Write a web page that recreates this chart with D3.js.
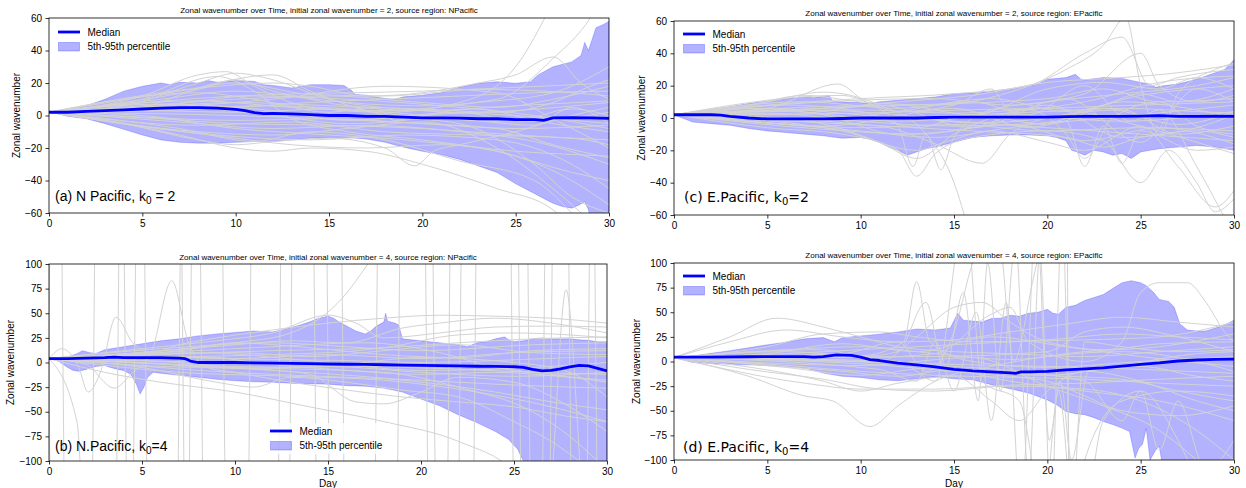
<!DOCTYPE html>
<meta charset="utf-8">
<script src="https://d3js.org/d3.v7.min.js"></script>
<style>
  body { margin: 0; background: #fff; }
  text { font-family: "Liberation Sans", Arial, sans-serif; }
</style>
<div id="chart"></div>
<script>

// ---------- data: [day, zonal wavenumber] ----------
const xTicks = [0, 5, 10, 15, 20, 25, 30];
const yTicks60 = [-60, -40, -20, 0, 20, 40, 60];
const yTicks100 = [-100, -75, -50, -25, 0, 25, 50, 75, 100];

// (a) N Pacific, k0 = 2
const medianA = [[0,2],[1,2],[2,2.5],[3,3],[4,3.5],[5,4],[6,4.5],[7,4.8],[8,4.8],[9,4.5],[10,3.8],[10.5,3],[11,1.8],[11.5,1.2],[12,1.3],[13,1],[14,0.5],[15,0],[16,0],[17,-0.5],[18,-0.6],[19,-1],[20,-1.5],[21,-1.5],[22,-1.6],[23,-2],[24,-2],[25,-2.5],[26,-2.5],[26.5,-3],[27,-1.5],[28,-1.3],[29,-1.5],[30,-1.8]];
const p95A = [[0,2],[0.5,2.8],[1,3.8],[2,6],[3,10],[4,15],[5,18],[6,20],[6.5,19],[7,20.5],[8,20],[8.5,21.5],[9,20.5],[10,21.5],[11,21],[11.5,19],[12,18.5],[13,17],[13.5,18],[14,19],[15,19],[15.8,18.5],[16.2,15.5],[16.4,13],[17,12.5],[18,10.5],[18.5,10],[19,11.5],[20,12.5],[21,14],[22,17.5],[23,19.8],[24,20.8],[25,19.8],[25.8,20.8],[26.2,25],[27,30],[28,33],[28.5,37],[28.7,45],[28.9,40],[29.3,54],[29.7,56],[30,58]];
const p5A = [[0,2],[0.5,1],[1,-0.5],[2,-2],[3,-5],[4,-8.5],[5,-12],[6,-15],[7,-16.5],[8,-17],[9,-17],[10,-16.5],[11,-16],[12,-16],[13,-15],[14,-14],[15,-13.5],[16,-13.5],[17,-14.5],[18,-16.5],[19,-19.5],[20,-22],[21,-24],[22,-27],[23,-31],[24,-35],[25,-42],[26,-48],[26.5,-51],[27,-54],[27.5,-56],[28,-57],[28.4,-55],[28.7,-53],[28.9,-58],[29.1,-70],[30,-75]];
const trajA = [
  [[0,2],[4,8],[8,16],[10,22],[12,15],[16,8],[20,6],[24,10],[27,35],[29,60],[30,80]],
  [[0,2],[5,12],[8,25],[9.5,27],[11,18],[14,5],[18,2],[22,8],[25,30],[27,70]],
  [[0,2],[4,6],[8,20],[10,26],[12,22],[15,10],[20,3],[25,0],[30,-5]],
  [[0,2],[5,10],[9,24],[11,15],[13,-2],[16,-10],[20,-15],[24,-22],[28,-35],[30,-40]],
  [[0,2],[3,-3],[7,-12],[10,-20],[12,-22],[14,-20],[17,-22],[20,-30],[24,-45],[27,-58],[28,-70]],
  [[0,2],[4,-5],[8,-15],[10,-18],[12,-16],[15,-14],[18,-20],[19.6,-31],[20.6,-22],[22,-18],[25,-10],[28,0],[30,5]],
  [[0,2],[6,3],[10,5],[14,8],[18,10],[22,12],[26,14],[30,15]],
  [[0,2],[6,-2],[10,-5],[15,-6],[20,-8],[25,-12],[30,-15]],
  [[0,2],[5,6],[10,10],[15,12],[20,8],[24,5],[27,10],[30,18]],
  [[0,2],[5,0],[10,-8],[15,-12],[20,-16],[25,-25],[28,-40],[30,-55]],
  [[0,2],[7,5],[12,0],[16,-5],[19,-3],[21,2],[23,4],[26,-3],[30,-10]],
  [[0,2],[6,10],[10,15],[13,12],[16,6],[20,4],[24,2],[27,8],[29,18],[30,22]],
  [[0,2],[8,-10],[12,-12],[16,-8],[20,-4],[24,-20],[27,-45],[29,-65]],
  [[0,2],[8,14],[11,10],[15,2],[17.5,5],[18.5,-3],[20,0],[25,3],[30,8]],
  [[0,2],[10,-14],[13,-18],[17,-20],[21,-18],[25,-22],[30,-25]],
  [[0,2],[6,4],[12,6],[16,4],[22,-2],[26,-6],[28,5],[30,-5]],
  [[0,2],[9,18],[12,20],[14,18],[17,12],[20,14],[23,20],[25,25],[27,36],[28.5,20],[30,10]],
  [[0,2],[7,-8],[11,-16],[14,-10],[18,-15],[22,-28],[26,-40],[28,-60]],
  [[0,2],[10,0],[20,-5],[24,-8],[27,-18],[30,-26]],
  [[0,2],[10,12],[20,15],[30,20]],
  [[0,2],[8,-6],[13,-4],[18,-10],[23,-12],[28,-14],[30,-18]],
  [[0,2],[6,7],[12,3],[16,-3],[22,2],[25,-3],[28,4],[30,0]],
  [[0,2],[4,3],[9,20],[12,25],[14,15],[18,0],[22,-5],[26,-30],[28,-50],[30,-60]],
  [[0,2],[12,10],[18,18],[24,14],[27,-2],[30,-20]],
  [[0,2],[5,5],[10,8],[15,6],[20,3],[25,6],[30,9]],
  [[0,2],[5,-1],[10,-3],[15,-2],[20,-5],[25,-8],[30,-6]],
  [[0,2],[6,6],[11,12],[16,10],[21,6],[26,0],[30,-8]],
  [[0,2],[7,-4],[12,-8],[17,-6],[22,-10],[26,-16],[30,-30]],
  [[0,2],[8,9],[13,5],[18,3],[23,8],[27,14],[30,30]],
  [[0,2],[5,3],[10,2],[15,4],[20,-1],[25,-4],[30,2]],
  [[0,2],[9,-12],[14,-15],[19,-12],[24,-15],[28,-30],[30,-45]],
  [[0,2],[7,15],[10,20],[14,13],[18,12],[23,16],[28,14],[30,12]]
];

// (b) N.Pacific, k0 = 4
const medianB = [[0,4],[1,4],[2,4.5],[3,5],[3.5,5.5],[4,5],[5,5],[6,5],[7,4.5],[7.3,4],[7.6,1.5],[8,0],[9,0],[10,0],[11,-0.3],[12,-0.6],[13,-0.9],[14,-1.2],[15,-1.5],[16,-1.8],[17,-2],[18,-2.3],[19,-2.6],[20,-3],[21,-3.2],[22,-3.5],[23,-3.8],[24,-4],[25,-4.3],[25.5,-5],[26,-7],[26.5,-8.5],[27,-8],[27.5,-6.5],[28,-4.5],[28.5,-3],[29,-3.5],[29.5,-6],[30,-8.5]];
const p95B = [[0,4],[0.5,5],[1,5.5],[1.5,9],[1.8,12],[2.2,10],[2.5,9],[3,13],[4,16],[5,19],[6,22],[7,24],[8,27],[9,29],[10,30.5],[11,32],[12,31],[12.5,33],[13,35.5],[13.5,38],[14,41],[14.5,45],[15,47],[15.3,45],[15.6,41],[16,37],[16.5,32],[17,29],[17.3,32],[17.6,37],[18,41],[18.1,50],[18.2,42],[18.6,40],[18.8,38],[19,24],[20,22],[21,20],[22,18],[22.5,16],[23,20],[23.5,21],[24,24],[24.5,26],[24.8,22],[25,21],[25.5,22],[26,24],[26.5,25],[27,24],[27.5,24],[28,24],[28.5,23],[29,22.5],[29.5,21],[30,21]];
const p5B = [[0,4],[0.5,1.5],[1,-5],[1.3,-8],[1.6,-9],[2,-7],[2.5,-4],[3,-3],[3.3,-5],[3.7,-7],[4,-8],[4.4,-12],[4.7,-22],[4.9,-32],[5.1,-25],[5.3,-15],[5.6,-10],[6,-11],[7,-13],[8,-15],[9,-17],[10,-18.5],[11,-19.5],[12,-20],[13,-21],[14,-21.5],[15,-22],[16,-23.5],[17,-24],[18,-26],[19,-30],[20,-37],[21,-44],[22,-53],[23,-61],[24,-70],[24.7,-78],[25.2,-88],[25.5,-100],[25.7,-110],[30,-110]];
const trajB = [
  [[0,4],[0.7,14],[1.6,-5],[2.1,-30],[2.8,-8],[3.6,46],[4.5,20],[5.5,10],[7,18],[9,25],[12,33],[15,40],[18,45],[21,48],[24,47],[27,45],[30,40]],
  [[0,4],[2,-2],[3.5,-26],[4.5,-10],[5.5,10],[6.6,83],[7.5,20],[8.5,-5],[10,-10],[13,-20],[16,-28],[19,-35],[22,-40],[25,-45],[28,-55],[30,-60]],
  [[0,4],[3,10],[6,16],[9,22],[12,30],[15,48],[16.5,40],[18,25],[21,30],[24,36],[27,37],[30,36]],
  [[0,4],[4,6],[8,5],[12,3],[16,2],[20,0],[24,2],[28,5],[30,6]],
  [[0,4],[4,-2],[8,-8],[12,-12],[16,-15],[20,-18],[24,-22],[28,-25],[30,-26]],
  [[0,4],[5,10],[10,18],[13,22],[16,20],[19,35],[21,40],[24,45],[27,40],[30,30]],
  [[0,4],[5,2],[10,-5],[14,-12],[16.5,-40],[18,-42],[20,-30],[22,-15],[25,-20],[28,-45],[30,-70]],
  [[0,4],[6,8],[12,12],[18,15],[22,20],[26,24],[30,26]],
  [[0,4],[6,-4],[12,-6],[18,-10],[22,-25],[26,-50],[28,-75],[29.5,-100]],
  [[0,4],[8,6],[12,-2],[16,-8],[20,-12],[24,-10],[28,-15],[30,-18]],
  [[0,4],[7,12],[10,20],[14,15],[18,8],[22,5],[26,12],[30,14]],
  [[0,4],[5,-5],[9,-20],[11,-25],[13,-15],[16,-20],[19,-28],[22,-35],[25,-60],[27,-80],[28.5,-100]],
  [[0,4],[9,0],[15,-3],[21,-6],[26,-10],[30,-12]],
  [[0,4],[10,10],[14,6],[18,12],[22,18],[26,10],[30,8]],
  [[0,4],[12,-8],[18,-16],[24,-30],[27,-40],[30,-48]],
  [[0,4],[11,15],[17,20],[21,10],[24,-5],[27,-12],[30,-20]],
  [[0,4],[15,10],[18,15],[22,28],[25,30],[28,28],[30,25]],
  [[0,4],[14,-5],[20,5],[25,0],[28,-10],[30,-35]],
  [[0,4],[6,12],[10,20],[13,30],[15.5,60],[17.5,110]],
  [[0,4],[5,6],[10,4],[15,8],[20,4],[25,10],[30,12]],
  [[0,4],[5,0],[10,-6],[15,-4],[20,-10],[25,-14],[30,-10]],
  [[0,4],[6,14],[12,20],[16,16],[20,12],[26,18],[30,20]],
  [[0,4],[7,-10],[13,-14],[18,-18],[23,-30],[27,-45],[30,-60]],
  [[0,4],[8,10],[14,2],[20,-8],[25,-6],[30,0]],
  [[0,4],[3,-10],[6,-20],[10,-30],[14,-45],[18,-60],[22,-80],[25,-110],[26.8,-150],[27.8,74],[28.8,-150],[30,-200]],
  [[0,4],[0.2,400],[0.45,400],[1.05,-400],[3.4,-400],[4.0,400],[4.9,400],[5.5,-400],[7.3,-400],[7.9,400],[9.1,400],[9.7,-400],[12.7,-400],[13.3,400],[15.5,400],[16.1,-400],[18.5,-400],[19.1,400],[20.4,400],[21.0,-400],[22.6,-400],[23.2,400],[25.0,400],[25.6,-400],[26.7,-400],[27.3,400],[29.1,400],[29.7,-400],[30,-400]],
  [[0,4],[0.25,-400],[2.1,-400],[2.7,400],[3.8,400],[4.4,-400],[6.7,-400],[7.3,400],[7.9,400],[8.5,-400],[12.1,-400],[12.7,400],[14.7,400],[15.3,-400],[17.3,-400],[17.9,400],[20.0,400],[20.6,-400],[21.8,-400],[22.4,400],[24.6,400],[25.2,-400],[26.3,-400],[26.9,400],[27.7,400],[28.3,-400],[28.7,-400],[29.3,400],[30,400]],
  [[0,4],[1.5,-60],[2.4,-400],[4.3,-400],[4.9,400],[6.9,400],[7.5,-400],[10.5,-400],[11.1,400],[14,400],[14.6,-400],[21.2,-400],[21.8,400],[25.5,400],[26.1,-400],[30,-400]]
];

// (c) E.Pacific, k0 = 2
const medianC = [[0,2],[1,2],[2,2],[2.5,1.8],[3,1],[4,0],[5,-0.6],[6,-0.6],[7,-0.5],[8,-0.5],[9,-0.3],[10,0],[11,0],[12,0],[13,0],[14,0.3],[15,0.5],[16,0.5],[17,0.5],[18,0.5],[19,0.5],[20,0.5],[21,0.8],[22,1],[23,1],[24,1],[25,1.2],[26,1.5],[27,1],[28,1],[29,1.2],[30,1]];
const p95C = [[0,2],[1,3.3],[2,5.3],[3,7],[4,9],[5,10.5],[6,12],[7,13],[7.5,12.5],[8,13.5],[8.3,14],[8.5,10.5],[9,10],[10,9.5],[10.5,9],[11,10],[12,11],[13,12],[14,13],[15,15],[16,15.5],[17,16.5],[18,18],[19,20],[19.5,21],[20,24],[21,25],[21.5,27],[21.8,24],[22,23.5],[23,25],[24,24.5],[25,22],[25.5,21],[25.8,19],[26.2,20],[27,21],[28,24],[28.5,26],[29,28],[29.5,30],[30,36]];
const p5C = [[0,2],[1,-2.5],[2,-3.5],[3,-4.5],[4,-6.5],[5,-8],[6,-9],[7,-10],[8,-11],[9,-12.5],[10,-12],[10.5,-13],[11,-15],[11.5,-18],[12,-20],[12.5,-23],[13,-21],[13.5,-19],[14,-18],[15,-15],[16,-12],[17,-11],[18,-10.5],[19,-10.5],[20,-11],[20.5,-12],[21,-14],[21.3,-20],[21.6,-21],[22,-23],[22.5,-20],[23,-21],[23.5,-23],[24,-22],[24.5,-25],[25,-21],[25.5,-20],[26,-19],[27,-18],[28,-17],[29,-18],[30,-20]];
const trajC = [
  [[0,2],[5,10],[8,16],[11,8],[13.5,-10],[15,-40],[15.8,-70]],
  [[0,2],[5,6],[8.8,21],[10,12],[12,-5],[12.8,-30],[13.5,-10],[14.3,-32],[15,-12],[17,5],[20,10],[24,15],[28,20],[30,25]],
  [[0,2],[3,5],[7,14],[10,10],[14,8],[18,16],[21,30],[23,45],[24.2,62],[25,20],[26,-10],[27,15],[29,30],[30,34]],
  [[0,2],[5,-6],[9,-10],[12,-20],[13,-36],[14,-22],[16,-12],[20,-8],[23,-14],[25,-40],[26.5,-20],[28,-40],[29,-58],[30,-50]],
  [[0,2],[6,-4],[10,-8],[14,-12],[18,-6],[21,-2],[22,-30],[23,-5],[24,-28],[25,-8],[28,-20],[30,-18]],
  [[0,2],[4,4],[8,6],[12,10],[16,14],[20,22],[24,25],[27,28],[30,33]],
  [[0,2],[5,8],[10,12],[15,15],[19,20],[22,40],[24,50],[25.5,20],[27,25],[30,30]],
  [[0,2],[5,3],[10,-2],[15,-5],[20,-3],[25,2],[30,8]],
  [[0,2],[4,-2],[8,-5],[12,0],[16,2],[20,4],[24,6],[28,4],[30,3]],
  [[0,2],[6,0],[11,-15],[13,-25],[15,-10],[17,0],[19,5],[21,-10],[22,-25],[23.5,0],[26,10],[28,-5],[30,-10]],
  [[0,2],[7,5],[12,2],[16,-3],[20,0],[23,8],[25,15],[27,10],[30,18]],
  [[0,2],[8,10],[14,12],[18,8],[22,15],[25,40],[26,20],[28,10],[30,14]],
  [[0,2],[9,-8],[13,-20],[14.5,-15],[17,-8],[20,-15],[22,-20],[25,-5],[27,-30],[29,-55],[30,-45]],
  [[0,2],[10,3],[20,6],[25,-5],[28,-15],[30,-22]],
  [[0,2],[6,4],[12,-2],[18,2],[24,-2],[30,4]],
  [[0,2],[10,7],[20,12],[23,18],[26,10],[30,12]],
  [[0,2],[8,-3],[16,-8],[21,-12],[23,-18],[25,-12],[28,-8],[30,-12]],
  [[0,2],[9,14],[12,4],[15,8],[17,18],[18,5],[22,10],[26,22],[30,26]],
  [[0,2],[11,-5],[14,-16],[16.5,-28],[18,-10],[20,0],[24,5],[27,-10],[30,-5]],
  [[0,2],[7,-2],[12,4],[16,10],[19,2],[22,20],[24.5,-2],[26,5],[28,-30],[29.5,-62]],
  [[0,2],[5,6],[10,2],[15,-2],[20,-6],[25,-10],[30,-14]],
  [[0,2],[12,8],[16,2],[20,18],[23,22],[26,18],[28,25],[30,18]],
  [[0,2],[5,4],[10,5],[15,3],[20,6],[25,8],[30,10]],
  [[0,2],[5,-3],[10,-6],[15,-4],[20,-8],[25,-6],[30,-8]],
  [[0,2],[6,8],[10,4],[13,-6],[16,2],[20,-4],[24,10],[28,5],[30,0]],
  [[0,2],[4,6],[8,2],[12,-10],[16,-6],[20,8],[24,-12],[28,-6],[30,2]],
  [[0,2],[7,10],[12,6],[17,12],[21,4],[25,14],[30,20]],
  [[0,2],[8,-7],[13,-10],[18,-4],[22,-14],[26,-6],[30,-16]],
  [[0,2],[10,-1],[15,6],[19,-6],[23,6],[27,-4],[30,4]],
  [[0,2],[6,2],[11,8],[16,-6],[21,12],[25,-15],[28,18],[30,10]]
];

// (d) E.Pacific, k0 = 4
const medianD = [[0,4.4],[2,4.5],[4,4.8],[6,5],[7,5],[7.5,4.5],[8,5],[8.7,6.8],[9.5,6.2],[10,4.5],[10.5,2],[11,1],[12,-1.7],[13,-3.5],[14,-5.5],[15,-8],[16,-9.5],[17,-10.5],[18,-11.5],[18.3,-12],[18.6,-10.5],[19,-10.5],[20,-10],[21,-8.5],[22,-7.5],[23,-6.5],[24,-4.8],[25,-3],[26,-1.5],[27,0.5],[28,1.5],[29,2.2],[30,2.4]];
const p95D = [[0,4],[1,5.5],[2,8.4],[3,11],[4,14],[5,17],[6,19.6],[7,23],[8,24.3],[8.3,22],[8.6,20],[9,24],[10,26],[11,27.7],[12,30],[13,33],[14,32],[14.8,34],[15.2,49],[15.5,42],[16,41],[16.5,40],[17,43.6],[17.5,44],[18,47],[18.5,46],[19,49],[19.5,50],[20,53],[20.3,49],[20.6,48],[21,55],[21.5,57],[22,62],[22.5,65],[23,68],[23.5,74],[24,80],[24.5,82],[25,80],[25.3,77],[25.7,70],[26,63],[26.5,61],[26.8,55],[27.1,38],[27.5,32],[28,31],[28.5,31],[29,34],[29.5,37],[30,42]];
const p5D = [[0,4],[1,-1],[2,-2],[3,-2.8],[4,-3.4],[5,-4.2],[6,-5],[7,-6.8],[7.5,-9],[8,-11.8],[9,-15],[10,-16.2],[11,-18.6],[12,-19.6],[13,-17.6],[14,-15.5],[15,-17.6],[16,-18.6],[17,-23.6],[18,-27.7],[19,-32],[20,-39],[20.5,-44],[21,-50.7],[21.5,-53],[22,-54],[22.5,-57],[23,-61],[23.5,-64],[24,-67.6],[24.4,-71],[24.7,-98],[24.9,-88],[25.1,-84],[25.3,-68],[25.5,-100],[25.8,-90],[26,-86],[26.2,-110],[30,-110]];
const trajD = [
  [[0,4],[3,25],[5.5,44],[8,35],[10,25],[12,15],[15,10],[18,8],[22,5],[26,10],[30,15]],
  [[0,4],[3,20],[6,32],[9,25],[12,20],[15,22],[18,30],[21,38],[24,45],[27,40],[30,35]],
  [[0,4],[4,-15],[7,-35],[8.5,-40],[10.5,-66],[12,-45],[14,-20],[17,-5],[20,5],[24,10],[28,0],[30,-10]],
  [[0,4],[4,-8],[8,-18],[11,-28],[14,-30],[18,-25],[22,-28],[25,-40],[28,-70],[30,-100]],
  [[0,4],[5,15],[8,28],[11,30],[13,25],[16,20],[20,22],[24,28],[27,25],[30,22]],
  [[0,4],[6,8],[10,12],[14,16],[18,20],[22,22],[26,25],[30,40]],
  [[0,4],[6,-4],[10,-10],[14,-14],[18,-16],[22,-18],[26,-22],[30,-25]],
  [[0,4],[5,2],[10,0],[15,-3],[20,-5],[25,-8],[30,-12]],
  [[0,4],[6,10],[10,6],[12.3,20],[13,81],[13.7,20],[16,0],[20,-6],[25,0],[30,5]],
  [[0,4],[8,-20],[10,-30],[12,-22],[15,-15],[17,-40],[18.5,-60],[20,-30],[22,-10],[25,-20],[28,-40],[30,-50]],
  [[0,4],[8,12],[11,0],[13,25],[15,55],[16.5,60],[18,40],[20,20],[23,12],[26,18],[30,20]],
  [[0,4],[10,4],[14,8],[17,48],[18,55],[19,20],[22,0],[24,20],[25,70],[26,80],[27.5,80],[28.5,60],[29.5,30],[30,20]],
  [[0,4],[12,-5],[16,-12],[20,-20],[22,-35],[24,-50],[27,-55],[30,-45]],
  [[0,4],[9,-10],[12,-15],[15,-8],[18,-12],[21,-15],[24,-18],[27,-30],[30,-40]],
  [[0,4],[7,-22],[10,-28],[14,-28],[18,-24],[22,-22],[26,-18],[30,-15]],
  [[0,4],[14,5],[20,10],[22,30],[24,35],[27,25],[30,10]],
  [[0,4],[6,12],[10,15],[14,8],[18,2],[22,10],[26,15],[30,28]],
  [[0,4],[6,-6],[10,-14],[14,-6],[18,-20],[22,-30],[26,-40],[30,-60]],
  [[0,4],[8,6],[12,0],[16,-10],[20,-14],[24,-4],[28,8],[30,10]],
  [[0,4],[5,8],[9,18],[13,10],[17,25],[21,15],[25,5],[30,-5]],
  [[0,4],[10,-4],[16,4],[20,-25],[23,-45],[26,-70],[28,-100]],
  [[0,4],[10,5],[12,10],[13.5,60],[14.5,-10],[15.5,70],[16.3,-40],[16.8,100],[17.5,-30],[18.3,120],[19,-120],[19.6,110],[20.2,-150],[20.8,150],[21.3,-150],[22,20],[24,15],[27,10],[30,12]],
  [[0,4],[11,-8],[13,-20],[14,20],[15,-30],[16.2,50],[17,-60],[17.8,60],[18.6,-150],[19.4,150],[20.1,-80],[20.7,-20],[21.3,-100],[22.2,-10],[25,-5],[28,-15],[30,-20]],
  [[0,4],[12,0],[14,-20],[15.6,150],[16.5,-20],[18.5,-40],[19.8,-150],[20.6,-30],[21.6,-200],[23,-60],[25,-30],[27,-80],[28,-120]],
  [[0,4],[9,8],[12,20],[13.5,-10],[15,30],[16,100],[17.3,140],[18.2,0],[19.2,80],[20,150],[21,250],[21.2,-200],[22,-100],[24,-40],[27,-30],[30,-35]],
  [[0,4],[15,-5],[22,-20],[24,-60],[25,-30],[26,-90],[27,-40],[28.5,-110],[30,-80]]
];

// ---------- panels ----------
const panels = [
  {id: "a", left: 49, right: 609, top: 18, bottom: 213, yDomain: [-60, 60], yTicks: yTicks60,
   title: "Zonal wavenumber over Time, initial zonal wavenumber = 2, source region: NPacific", titleY: 13,
   ylabX: 16, label: ["(a) N Pacific, k", "0", " = 2"], labelFont: "Liberation Sans", labelX: 55, labelY: 201,
   legend: {x: 58, y: 32}, dayLabel: false, median: medianA, p95: p95A, p5: p5A, traj: trajA},
  {id: "b", left: 49, right: 607, top: 264, bottom: 461, yDomain: [-100, 100], yTicks: yTicks100,
   title: "Zonal wavenumber over Time, initial zonal wavenumber = 4, source region: NPacific", titleY: 260,
   ylabX: 10, label: ["(b) N.Pacific, k", "0", "=4"], labelFont: "Liberation Sans", labelX: 55, labelY: 451,
   legend: {x: 270, y: 431}, dayLabel: true, median: medianB, p95: p95B, p5: p5B, traj: trajB},
  {id: "c", left: 674, right: 1234, top: 21, bottom: 215, yDomain: [-60, 60], yTicks: yTicks60,
   title: "Zonal wavenumber over Time, initial zonal wavenumber = 2, source region: EPacific", titleY: 16,
   ylabX: 641, label: ["(c) E.Pacific, k", "0", "=2"], labelFont: "DejaVu Sans", labelX: 684, labelY: 202,
   legend: {x: 683, y: 34}, dayLabel: false, median: medianC, p95: p95C, p5: p5C, traj: trajC},
  {id: "d", left: 674, right: 1234, top: 263, bottom: 460, yDomain: [-100, 100], yTicks: yTicks100,
   title: "Zonal wavenumber over Time, initial zonal wavenumber = 4, source region: EPacific", titleY: 258,
   ylabX: 636, label: ["(d) E.Pacific, k", "0", "=4"], labelFont: "DejaVu Sans", labelX: 683, labelY: 451.5,
   legend: {x: 683, y: 276}, dayLabel: true, median: medianD, p95: p95D, p5: p5D, traj: trajD}
];

const svg = d3.select("#chart")
  .append("svg")
    .attr("width", 1246)
    .attr("height", 488);

const fmt = d => d < 0 ? "\u2212" + Math.abs(d) : String(d);

panels.forEach(p => {
  const x = d3.scaleLinear().domain([0, 30]).range([p.left, p.right]);
  const y = d3.scaleLinear().domain(p.yDomain).range([p.bottom, p.top]);
  const g = svg.append("g");

  g.append("clipPath").attr("id", "clip-" + p.id)
    .append("rect")
      .attr("x", p.left).attr("y", p.top)
      .attr("width", p.right - p.left).attr("height", p.bottom - p.top);

  const plot = g.append("g").attr("clip-path", `url(#clip-${p.id})`);
  const line = d3.line().x(d => x(d[0])).y(d => y(d[1]));
  const smooth = d3.line().x(d => x(d[0])).y(d => y(d[1])).curve(d3.curveMonotoneX);

  // 5th-95th percentile band
  plot.append("path")
    .attr("d", line(p.p95.concat(p.p5.slice().reverse())) + "Z")
    .attr("fill", "blue").attr("fill-opacity", 0.3)
    .attr("stroke", "blue").attr("stroke-opacity", 0.25).attr("stroke-width", 0.8);

  // individual trajectories
  plot.selectAll("path.traj")
    .data(p.traj)
    .join("path")
      .attr("class", "traj")
      .attr("d", smooth)
      .attr("fill", "none")
      .attr("stroke", "#d3d3d3")
      .attr("stroke-width", 1);

  // median
  plot.append("path")
    .datum(p.median)
    .attr("d", line)
    .attr("fill", "none")
    .attr("stroke", "blue")
    .attr("stroke-width", 2.8)
    .attr("stroke-linejoin", "round");

  // axes
  const ax = g.append("g")
    .attr("transform", `translate(0,${p.bottom})`)
    .call(d3.axisBottom(x).tickValues(xTicks).tickSize(3.5).tickPadding(3.5).tickSizeOuter(0));
  const ay = g.append("g")
    .attr("transform", `translate(${p.left},0)`)
    .call(d3.axisLeft(y).tickValues(p.yTicks).tickFormat(fmt).tickSize(3.5).tickPadding(3.5).tickSizeOuter(0));
  [ax, ay].forEach(a => {
    a.select(".domain").remove();
    a.selectAll(".tick line").attr("stroke", "#000").attr("stroke-width", 0.8);
    a.selectAll(".tick text").attr("font-size", 10).attr("fill", "#000")
      .attr("font-family", "Liberation Sans, Arial, sans-serif");
  });

  // frame
  g.append("rect")
    .attr("x", p.left).attr("y", p.top)
    .attr("width", p.right - p.left).attr("height", p.bottom - p.top)
    .attr("fill", "none").attr("stroke", "#000").attr("stroke-width", 0.8);

  // title
  g.append("text")
    .attr("x", (p.left + p.right) / 2).attr("y", p.titleY)
    .attr("text-anchor", "middle").attr("font-size", 8)
    .text(p.title);

  // y label
  g.append("text")
    .attr("transform", `translate(${p.ylabX + 3.5},${(p.top + p.bottom) / 2}) rotate(-90)`)
    .attr("text-anchor", "middle").attr("font-size", 10)
    .text("Zonal wavenumber");

  if (p.dayLabel) {
    g.append("text")
      .attr("x", (p.left + p.right) / 2).attr("y", 487)
      .attr("text-anchor", "middle").attr("font-size", 10)
      .text("Day");
  }

  // panel label with subscript
  const lab = g.append("text")
    .attr("x", p.labelX).attr("y", p.labelY)
    .attr("font-size", 14)
    .style("font-family", p.labelFont);
  lab.append("tspan").text(p.label[0]);
  lab.append("tspan").attr("dy", 3).attr("font-size", 10).text(p.label[1]);
  lab.append("tspan").attr("dy", -3).text(p.label[2]);

  // legend
  const lg = g.append("g").attr("transform", `translate(${p.legend.x},${p.legend.y})`);
  lg.append("rect")
    .attr("x", -5).attr("y", -8).attr("width", 125).attr("height", 31)
    .attr("fill", "#fff").attr("fill-opacity", 0.8);
  lg.append("line")
    .attr("x1", 0).attr("x2", 22).attr("y1", 0).attr("y2", 0)
    .attr("stroke", "blue").attr("stroke-width", 2.8);
  lg.append("rect")
    .attr("x", 0.5).attr("y", 10.5).attr("width", 21).attr("height", 8.5)
    .attr("fill", "blue").attr("fill-opacity", 0.3)
    .attr("stroke", "blue").attr("stroke-opacity", 0.3).attr("stroke-width", 0.8);
  lg.append("text").attr("x", 29.5).attr("y", 3.5).attr("font-size", 10).text("Median");
  lg.append("text").attr("x", 29.5).attr("y", 18).attr("font-size", 10).text("5th-95th percentile");
});

</script>
